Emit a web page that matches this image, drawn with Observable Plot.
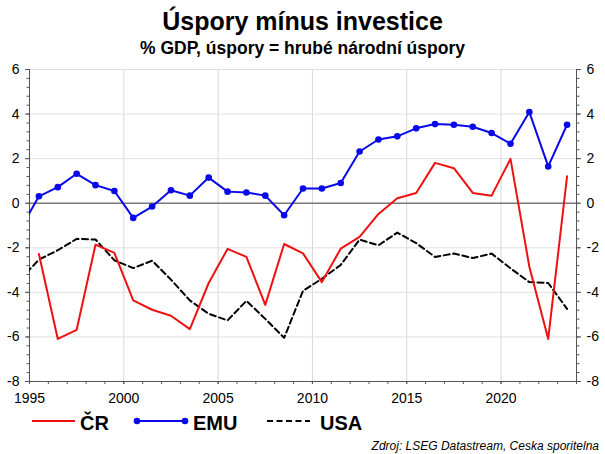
<!DOCTYPE html>
<html><head><meta charset="utf-8">
<script src="https://cdn.jsdelivr.net/npm/d3@7"></script>
<script src="https://cdn.jsdelivr.net/npm/@observablehq/plot@0.6"></script>
<style>
body{margin:0;background:#fff;font-family:"Liberation Sans",Arial,sans-serif;}
#wrap{position:relative;width:605px;height:454px;overflow:hidden;}
.abs{position:absolute;white-space:nowrap;}
#title{left:0;width:605px;top:9px;text-align:center;font-weight:bold;font-size:25px;line-height:25px;color:#000;}
#sub{left:0;width:605px;top:40px;text-align:center;font-weight:bold;font-size:17.5px;line-height:17.5px;color:#000;}
#chart{left:0;top:60px;}
#legend{left:0;top:412px;height:22px;}
.li{position:absolute;top:1px;font-weight:bold;font-size:20px;line-height:20px;}
#src{right:6px;top:440px;font-style:italic;font-size:12px;line-height:12px;color:#000;}
</style></head><body>
<div id="wrap">
  <div id="title" class="abs">Úspory mínus investice</div>
  <div id="sub" class="abs">% GDP, úspory = hrubé národní úspory</div>
  <div id="chart" class="abs"></div>
  <div id="legend" class="abs"></div>
  <div id="src" class="abs">Zdroj: LSEG Datastream, Ceska sporitelna</div>
</div>
<script>
// Data (annual values, % GDP)
const yearsCR = [1995,1996,1997,1998,1999,2000,2001,2002,2003,2004,2005,2006,2007,2008,2009,2010,2011,2012,2013,2014,2015,2016,2017,2018,2019,2020,2021,2022,2023];
const cr = [-2.28,-6.09,-5.68,-1.86,-2.23,-4.36,-4.78,-5.05,-5.65,-3.58,-2.05,-2.41,-4.56,-1.83,-2.25,-3.54,-2.04,-1.51,-0.48,0.22,0.46,1.81,1.57,0.46,0.34,1.99,-2.85,-6.09,1.21];
const yearsAll = [1994,1995,1996,1997,1998,1999,2000,2001,2002,2003,2004,2005,2006,2007,2008,2009,2010,2011,2012,2013,2014,2015,2016,2017,2018,2019,2020,2021,2022,2023];
const emu = [-1.17,0.31,0.72,1.32,0.81,0.55,-0.66,-0.15,0.58,0.34,1.15,0.52,0.48,0.34,-0.54,0.66,0.66,0.91,2.32,2.86,3.0,3.36,3.55,3.52,3.43,3.15,2.67,4.09,1.65,3.52];
const usa = [-3.43,-2.53,-2.11,-1.6,-1.63,-2.56,-2.91,-2.58,-3.43,-4.36,-4.96,-5.26,-4.38,-5.19,-6.04,-3.93,-3.39,-2.77,-1.63,-1.89,-1.32,-1.79,-2.41,-2.26,-2.46,-2.26,-2.92,-3.54,-3.58,-4.74];
const xTicks = [1995,2000,2005,2010,2015,2020];
const yTicks = [-8,-6,-4,-2,0,2,4,6];
const seriesNames = ["ČR","EMU","USA"];
const colors = {"ČR":"#ee1111","EMU":"#0808e8","USA":"#000000"};

const crData = yearsCR.map((y,i)=>({x:y+0.5, v:cr[i]}));
const emuData = yearsAll.map((y,i)=>({x:y+0.5, v:emu[i]}));
const usaData = yearsAll.map((y,i)=>({x:y+0.5, v:usa[i]}));

const minorY = d3.range(-8, 6.001, 0.4).map(d=>+d.toFixed(2));
const minorX = d3.range(1995, 2025, 1);
const axisColor = "#555";

const chart = Plot.plot({
  width: 605, height: 351,
  marginTop: 9, marginBottom: 30, marginLeft: 29, marginRight: 29,
  x: {domain:[1995,2024]},
  y: {domain:[-8,6]},
  style: {fontFamily:"'Liberation Sans', Arial, sans-serif", fontSize:"14px", color:"#000", background:"#fff"},
  marks: [
    Plot.gridX(xTicks, {stroke:"#d8d8d8", strokeOpacity:1}),
    Plot.gridY(yTicks, {stroke:"#e0e0e0", strokeOpacity:1}),
    Plot.ruleY([0], {stroke:"#7a7a7a", strokeWidth:1.6}),
    Plot.ruleX([1995], {stroke:axisColor}),
    Plot.ruleX([2024], {stroke:axisColor}),
    Plot.ruleY([-8], {stroke:axisColor}),
    Plot.axisY(minorY, {anchor:"left", tickSize:2.5, tickFormat:()=>"", stroke:axisColor, label:null}),
    Plot.axisY(minorY, {anchor:"right", tickSize:2.5, tickFormat:()=>"", stroke:axisColor, label:null}),
    Plot.axisY(yTicks, {anchor:"left", tickSize:4, tickPadding:6, stroke:axisColor, label:null, fontSize:14, tickFormat:d=>String(d)}),
    Plot.axisY(yTicks, {anchor:"right", tickSize:4, tickPadding:6, stroke:axisColor, label:null, fontSize:14, tickFormat:d=>String(d)}),
    Plot.axisX(minorX, {anchor:"bottom", tickSize:3, tickFormat:()=>"", stroke:axisColor, label:null}),
    Plot.axisX(xTicks, {anchor:"bottom", tickSize:3, tickPadding:9, stroke:axisColor, label:null, fontSize:14, tickFormat:d=>String(d)}),
    Plot.line(usaData, {x:"x", y:"v", stroke:colors.USA, strokeWidth:2, strokeDasharray:"6,3.5", clip:true}),
    Plot.line(crData, {x:"x", y:"v", stroke:colors["ČR"], strokeWidth:2, clip:true}),
    Plot.line(emuData, {x:"x", y:"v", stroke:colors.EMU, strokeWidth:2, clip:true}),
    Plot.dot(emuData, {x:"x", y:"v", r:3.3, fill:colors.EMU, stroke:"none", clip:true})
  ]
});
document.getElementById("chart").appendChild(chart);

// Legend
const lg = document.getElementById("legend");
const items = [
  {name:seriesNames[0], x0:32, x1:75, tx:80, dash:null, dots:false},
  {name:seriesNames[1], x0:137, x1:185, tx:193, dash:null, dots:true},
  {name:seriesNames[2], x0:267, x1:310, tx:320, dash:"6,3.5", dots:false}
];
const ns = "http://www.w3.org/2000/svg";
const svg = document.createElementNS(ns,"svg");
svg.setAttribute("width","605"); svg.setAttribute("height","22");
svg.style.position="absolute"; svg.style.left="0"; svg.style.top="0";
items.forEach(it=>{
  const l = document.createElementNS(ns,"line");
  l.setAttribute("x1",it.x0); l.setAttribute("x2",it.x1);
  l.setAttribute("y1",9); l.setAttribute("y2",9);
  l.setAttribute("stroke",colors[it.name]); l.setAttribute("stroke-width",2);
  if(it.dash) l.setAttribute("stroke-dasharray",it.dash);
  svg.appendChild(l);
  if(it.dots){
    [it.x0,it.x1].forEach(cx=>{
      const c=document.createElementNS(ns,"circle");
      c.setAttribute("cx",cx); c.setAttribute("cy",9); c.setAttribute("r",3.3);
      c.setAttribute("fill",colors[it.name]); svg.appendChild(c);
    });
  }
});
lg.appendChild(svg);
items.forEach(it=>{
  const s=document.createElement("div");
  s.className="li"; s.style.left=it.tx+"px"; s.textContent=it.name;
  lg.appendChild(s);
});
</script>
</body></html>
